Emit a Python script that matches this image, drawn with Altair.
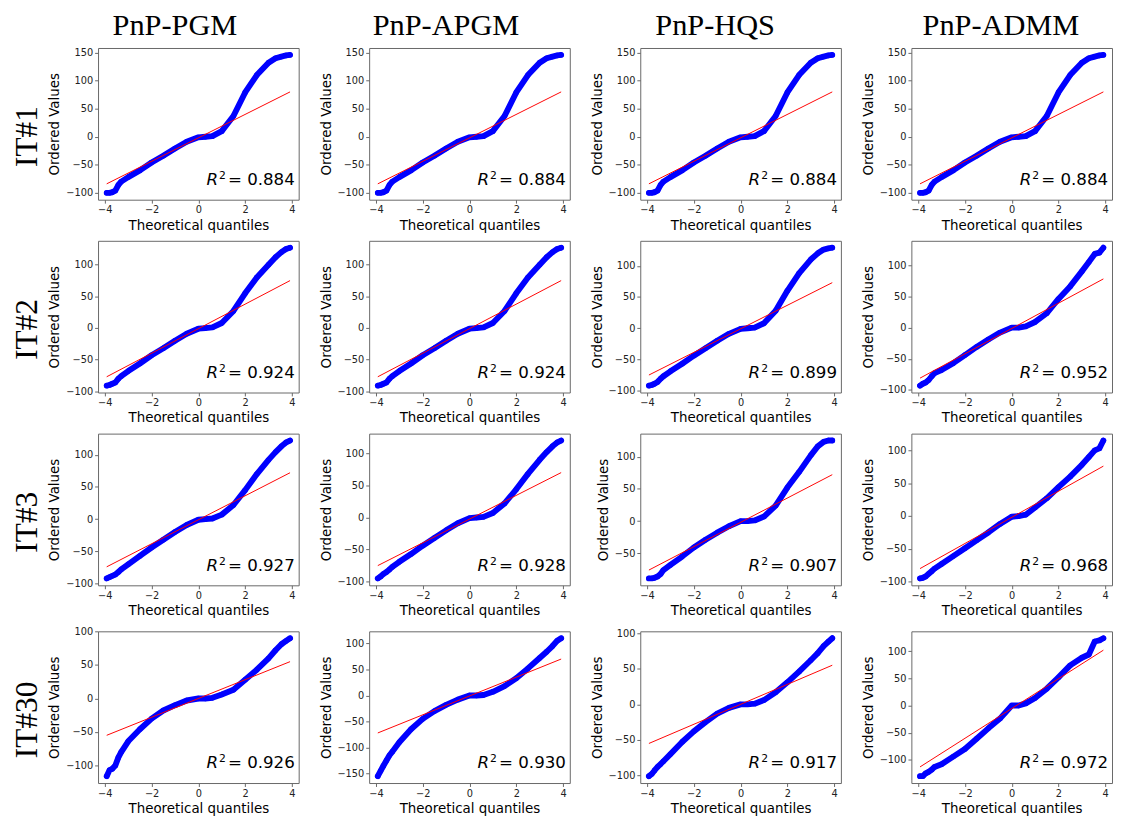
import altair as alt
import pandas as pd

methods = ["PnP-PGM", "PnP-APGM", "PnP-HQS", "PnP-ADMM"]
iterations = ["IT#1", "IT#2", "IT#3", "IT#30"]

qx = [-3.92, -3.8, -3.68, -3.55, -3.42, -3.3, -3.0, -2.5, -2.0, -1.5, -1.0, -0.5,
      0.0, 0.3, 0.6, 1.0, 1.5, 2.0, 2.5, 3.0, 3.3, 3.55, 3.75, 3.92]
fit_x = [-3.92, 3.92]

# ordered values (one list per iteration / method)
ov_it1_pgm = [-100, -100, -99, -96, -86, -80, -72, -60, -46, -34, -21, -9, -1, 0, 1, 10, 37, 79, 110, 132, 140, 143, 145, 146]
ov_it1_apgm = [-100, -100, -99, -96, -86, -80, -72, -60, -46, -34, -21, -9, -1, 0, 1, 10, 37, 79, 110, 132, 140, 143, 145, 146]
ov_it1_hqs = [-100, -100, -99, -96, -86, -80, -72, -60, -46, -34, -21, -9, -1, 0, 1, 10, 37, 79, 110, 132, 140, 143, 145, 146]
ov_it1_admm = [-100, -100, -99, -96, -86, -80, -72, -60, -46, -34, -21, -9, -1, 0, 1, 10, 37, 79, 110, 132, 140, 143, 145, 146]

ov_it2_pgm = [-91, -90, -88, -86, -80, -76, -68, -56, -43, -32, -20, -9, -1, 0, 1, 8, 27, 55, 80, 100, 112, 120, 125, 127]
ov_it2_apgm = [-91, -90, -88, -86, -80, -76, -68, -56, -43, -32, -20, -9, -1, 0, 1, 8, 27, 55, 80, 100, 112, 120, 125, 127]
ov_it2_hqs = [-92, -91, -89, -86, -81, -77, -69, -57, -44, -32, -20, -9, -1, 0, 1, 8, 28, 60, 88, 110, 120, 126, 128, 129]
ov_it2_admm = [-93, -90, -88, -84, -78, -73, -68, -57, -44, -31, -19, -8, 0, 0, 2, 9, 23, 46, 66, 90, 105, 118, 120, 128]

ov_it3_pgm = [-92, -90, -88, -86, -82, -78, -70, -57, -44, -32, -20, -9, -1, 0, 1, 7, 22, 45, 70, 92, 104, 113, 119, 122]
ov_it3_apgm = [-95, -92, -88, -85, -81, -77, -69, -57, -44, -32, -20, -9, -1, 0, 1, 7, 22, 44, 68, 90, 102, 111, 117, 120]
ov_it3_hqs = [-89, -89, -88, -86, -82, -76, -68, -55, -41, -29, -18, -8, 0, 0, 1, 7, 24, 52, 76, 102, 116, 123, 125, 125]
ov_it3_admm = [-95, -94, -92, -88, -84, -80, -73, -61, -49, -37, -25, -12, -1, 0, 2, 13, 27, 44, 60, 78, 90, 100, 103, 115]

ov_it30_pgm = [-116, -107, -105, -100, -88, -80, -64, -46, -30, -18, -10, -3, 0, 0, 1, 6, 13, 28, 43, 60, 72, 81, 86, 90]
ov_it30_apgm = [-155, -145, -135, -125, -115, -108, -90, -65, -45, -30, -18, -8, 0, 0, 1, 7, 18, 33, 52, 72, 84, 95, 105, 110]
ov_it30_hqs = [-101, -98, -93, -88, -84, -80, -70, -53, -38, -25, -13, -5, 0, 0, 1, 6, 17, 31, 46, 62, 72, 82, 88, 93]
ov_it30_admm = [-130, -130, -125, -122, -118, -113, -108, -94, -80, -61, -42, -24, 0, 0, 4, 14, 31, 52, 74, 88, 94, 118, 120, 124]

# least-squares fit line end values (at fit_x)
fit_it1 = [[-84, 80], [-84, 80], [-84, 80], [-84, 80]]
fit_it2 = [[-77, 75], [-77, 75], [-75, 73], [-81, 78]]
fit_it3 = [[-74, 72], [-75, 70], [-76, 72], [-80, 76]]
fit_it30 = [[-55, 55], [-72, 70], [-55, 55], [-113, 102]]

r2_it1 = ["0.884", "0.884", "0.884", "0.884"]
r2_it2 = ["0.924", "0.924", "0.899", "0.952"]
r2_it3 = ["0.927", "0.928", "0.907", "0.968"]
r2_it30 = ["0.926", "0.930", "0.917", "0.972"]

ordered = [
    [ov_it1_pgm, ov_it1_apgm, ov_it1_hqs, ov_it1_admm],
    [ov_it2_pgm, ov_it2_apgm, ov_it2_hqs, ov_it2_admm],
    [ov_it3_pgm, ov_it3_apgm, ov_it3_hqs, ov_it3_admm],
    [ov_it30_pgm, ov_it30_apgm, ov_it30_hqs, ov_it30_admm],
]
fits = [fit_it1, fit_it2, fit_it3, fit_it30]
r2s = [r2_it1, r2_it2, r2_it3, r2_it30]

W, H = 205, 155
SANS = "DejaVu Sans"
SERIF = "Liberation Serif"
title_shift = [-24, -24, -26, -11]


def panel(r, c):
    yv = ordered[r][c]
    fv = fits[r][c]
    df = pd.DataFrame({"x": qx, "y": yv})
    fdf = pd.DataFrame({"x": fit_x, "y": fv})
    lo = min(min(yv), min(fv))
    hi = max(max(yv), max(fv))
    pad = 0.05 * (hi - lo)
    dom = [lo - pad, hi + pad]
    yt = [v for v in range(-300, 301, 50) if dom[0] <= v <= dom[1]]
    xs = alt.Scale(domain=[-4.29, 4.29], nice=False, zero=False)
    ys = alt.Scale(domain=dom, nice=False, zero=False)
    xax = alt.Axis(values=[-4, -2, 0, 2, 4], title="Theoretical quantiles", titlePadding=3.5)
    yax = alt.Axis(values=yt, title="Ordered Values", titlePadding=4)
    X = alt.X("x:Q", scale=xs, axis=xax)
    Y = alt.Y("y:Q", scale=ys, axis=yax)

    curve = alt.Chart(df).mark_line(color="#0000ff", strokeWidth=6, strokeCap="round",
                                    strokeJoin="round").encode(x=X, y=Y)
    dots = alt.Chart(df).mark_circle(color="#0000ff", size=30, opacity=1).encode(x=X, y=Y)
    fit = alt.Chart(fdf).mark_line(color="#ff0000", strokeWidth=1).encode(x=X, y=Y)

    tdf = pd.DataFrame({"num": ["= " + r2s[r][c]], "R": ["R"], "sup": ["2"],
                        "lab": [iterations[r]], "meth": [methods[c]]})
    end = W - 4
    t_num = alt.Chart(tdf).mark_text(align="right", baseline="alphabetic", font=SANS,
                                     fontSize=17, color="black").encode(
        x=alt.value(end), y=alt.value(H - 15), text="num:N")
    t_sup = alt.Chart(tdf).mark_text(align="left", baseline="alphabetic", font=SANS,
                                     fontSize=11, color="black").encode(
        x=alt.value(end - 77.5), y=alt.value(H - 21), text="sup:N")
    t_r = alt.Chart(tdf).mark_text(align="right", baseline="alphabetic", font=SANS,
                                   fontSize=17, fontStyle="italic", color="black").encode(
        x=alt.value(end - 78.5), y=alt.value(H - 15), text="R:N")

    layers = [curve, dots, fit, t_num, t_sup, t_r]
    if c == 0:
        lab = alt.Chart(tdf).mark_text(angle=270, align="center", baseline="middle",
                                       font=SERIF, fontSize=32, color="black").encode(
            x=alt.value(-72), y=alt.value(H / 2 + 13), text="lab:N")
        layers.append(lab)
    if r == 0:
        ttl = alt.Chart(tdf).mark_text(align="center", baseline="alphabetic",
                                       font=SERIF, fontSize=31, color="black").encode(
            x=alt.value(W / 2 + title_shift[c]), y=alt.value(-13), text="meth:N")
        layers.append(ttl)
    return alt.layer(*layers).properties(width=W, height=H)


panels = [panel(r, c) for r in range(4) for c in range(4)]

chart = alt.concat(*panels, columns=4, spacing={"row": 7, "column": 19}).properties(
    padding={"left": 3, "top": -7, "right": 0, "bottom": 0}, background="white"
).configure_view(stroke="#666666", strokeWidth=1).configure_axis(
    grid=False, domain=False, tickColor="#666666", tickSize=3.5, tickWidth=1,
    labelFont=SANS, labelFontSize=10, labelColor="#222222", labelPadding=2,
    titleFont=SANS, titleFontSize=13.7, titleFontWeight="normal", titleColor="black"
)

chart.save("out.html", embed_options={"renderer": "svg", "actions": False})
